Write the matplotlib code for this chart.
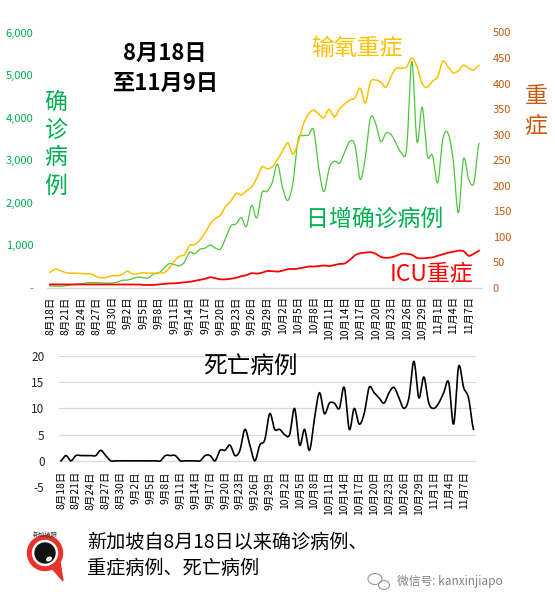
import numpy as np
import pandas as pd
import matplotlib
matplotlib.use("Agg")
import matplotlib.pyplot as plt
from matplotlib.patches import Circle, Ellipse, Polygon

plt.rcParams['font.family'] = ['Noto Sans CJK SC', 'DejaVu Sans']
plt.rcParams['axes.unicode_minus'] = False

# ---------------- data ----------------
dates = pd.date_range('2021-08-18', '2021-11-09', freq='D')
date_labels = [f"{d.month}月{d.day}日" for d in dates]

daily_cases = [50, 45, 40, 55, 70, 90, 94, 120, 127, 125, 117, 115, 116, 140,
               180, 187, 218, 259, 241, 235, 328, 349, 457, 568, 555, 520, 607, 837,
               807, 910, 935, 1009, 938, 917, 1178, 1457, 1504, 1650, 1443, 1939, 1647, 2236, 2268, 2478,
               2909, 2356, 2057, 2475, 3486, 3577, 3590, 3703, 2809, 2263, 2809, 2976, 2932, 3190, 3445, 3348,
               2553, 3058, 3994, 3862, 3439, 3637, 3598, 3383, 3174, 3277, 5324, 3432, 4248, 3112, 3112, 2470,
               3496, 3635, 3003, 1767, 3035, 2553, 2470, 3397]

oxygen = [31, 37, 34, 30, 29, 29, 28, 28, 27, 22,
          20, 21, 24, 24, 27, 33, 27, 28, 30, 29,
          29, 30, 30, 38, 52, 62, 65, 83, 85, 94,
          108, 125, 136, 143, 160, 170, 185, 182, 190, 198,
          215, 237, 233, 237, 252, 268, 284, 262, 285, 320,
          340, 348, 340, 333, 350, 335, 350, 360, 368, 372,
          391, 362, 403, 407, 403, 393, 415, 430, 430, 433,
          450, 433, 400, 393, 405, 413, 444, 433, 421, 425,
          436, 430, 427, 436]

icu = [7, 7, 7, 7, 7, 7, 7, 7, 7, 7,
       7, 7, 7, 7, 7, 7, 7, 7, 6, 6,
       6, 7, 8, 9, 9, 10, 11, 12, 14, 16,
       18, 21, 19, 17, 17, 18, 20, 23, 25, 29,
       28, 30, 33, 33, 32, 34, 37, 37, 38, 40,
       42, 42, 43, 44, 43, 45, 47, 48, 55, 64,
       68, 69, 70, 67, 61, 59, 60, 63, 67, 67,
       65, 59, 58, 59, 60, 63, 66, 69, 71, 73,
       72, 63, 67, 73]

deaths = [0, 1, 0, 1, 1, 1, 1, 1, 2, 1,
          0, 0, 0, 0, 0, 0, 0, 0, 0, 0,
          0, 1, 1, 1, 0, 0, 0, 0, 0, 1,
          1, 0, 2, 2, 3, 1, 2, 6, 3, 0,
          3, 4, 9, 6, 6, 5, 5, 10, 3, 6,
          2, 8, 13, 9, 11, 11, 10, 14, 6, 10,
          7, 9, 14, 13, 12, 11, 13, 14, 12, 10,
          12, 19, 12, 16, 11, 10, 11, 13, 15, 7,
          18, 14, 12, 6]

left_ticks = [0, 1000, 2000, 3000, 4000, 5000, 6000]
right_ticks = [0, 50, 100, 150, 200, 250, 300, 350, 400, 450, 500]
death_ticks = [-5, 0, 5, 10, 15, 20]

# ---------------- helpers ----------------
W, H = 555, 606


def fx(px):
    return px / W


def fy(py):
    return 1 - py / H


def smooth(vals, n=12):
    v = np.asarray(vals, float)
    p = np.concatenate([[v[0]], v, [v[-1]]])
    xs, ys = [], []
    t = np.linspace(0, 1, n, endpoint=False)
    for i in range(len(v) - 1):
        p0, p1, p2, p3 = p[i], p[i + 1], p[i + 2], p[i + 3]
        y = 0.5 * (2 * p1 + (-p0 + p2) * t + (2 * p0 - 5 * p1 + 4 * p2 - p3) * t ** 2
                   + (-p0 + 3 * p1 - 3 * p2 + p3) * t ** 3)
        xs.append(i + t)
        ys.append(y)
    xs.append([len(v) - 1])
    ys.append([v[-1]])
    return np.concatenate(xs), np.concatenate(ys)


idx = np.arange(len(dates))
tick_idx = idx[::3]
tick_lab = [date_labels[i] for i in tick_idx]

GREEN_TXT = '#00B050'
GREEN_LINE = '#4CC63C'
GOLD = '#FFC000'
RED = '#FF0000'
BROWN = '#C55A11'
GRID = '#D9D9D9'

fig = plt.figure(figsize=(W / 100, H / 100), dpi=100)
fig.patch.set_facecolor('white')

# ---------------- top chart ----------------
ax1 = fig.add_axes([fx(47.4), fy(288), (481.6 - 47.4) / W, (288 - 32.5) / H])
ax1.set_xlim(-0.5, len(idx) - 0.5)
ax1.set_ylim(0, 6000)
ax2 = ax1.twinx()
ax2.set_ylim(0, 500)

gx, gy = smooth(daily_cases)
ax1.plot(gx, gy, color=GREEN_LINE, lw=0.9, zorder=3)
ox, oy = smooth(oxygen)
ax2.plot(ox, oy, color=GOLD, lw=1.1, zorder=3)
ix, iy = smooth(icu)
ax2.plot(ix, iy, color=RED, lw=1.3, zorder=3)

ax1.set_yticks(left_ticks)
ax1.set_yticklabels(['-' if v == 0 else f'{v:,}' for v in left_ticks])
ax1.tick_params(axis='y', length=0, pad=10, labelsize=8, labelcolor=GREEN_TXT)
ax2.set_yticks(right_ticks)
ax2.set_yticklabels([str(v) for v in right_ticks])
ax2.tick_params(axis='y', length=0, pad=8, labelsize=8, labelcolor=BROWN)

ax1.set_xticks(tick_idx)
ax1.set_xticklabels(tick_lab, rotation=90, fontsize=7.5)
ax1.tick_params(axis='x', length=0, pad=6)

for a in (ax1, ax2):
    for s in a.spines.values():
        s.set_visible(False)
ax1.spines['bottom'].set_visible(True)
ax1.spines['bottom'].set_color(GRID)
ax1.spines['bottom'].set_linewidth(1.0)

# ---------------- bottom chart ----------------
ax3 = fig.add_axes([fx(58.5), fy(487), (476 - 58.5) / W, (487 - 356) / H])
ax3.set_xlim(-0.5, len(idx) - 0.5)
ax3.set_ylim(-5, 20)
ax3.set_yticks(death_ticks)
ax3.set_yticklabels([str(v) for v in death_ticks])
ax3.yaxis.grid(True, color=GRID, lw=0.9)
ax3.set_axisbelow(True)
for s in ax3.spines.values():
    s.set_visible(False)
ax3.spines['bottom'].set_position(('data', 0))
ax3.spines['bottom'].set_visible(True)
ax3.spines['bottom'].set_color('none')
ax3.tick_params(axis='y', length=0, pad=10, labelsize=8.5, labelcolor='#262626')
ax3.set_xticks(tick_idx)
ax3.set_xticklabels(tick_lab, rotation=90, fontsize=7.5)
ax3.tick_params(axis='x', length=0, pad=7.5)
dx, dy = smooth(deaths)
ax3.plot(dx, dy, color='black', lw=1.2, zorder=3)

# ---------------- annotations ----------------
fig.text(fx(165), fy(53), "8月18日", ha='center', va='center', fontsize=16, fontweight='bold')
fig.text(fx(166), fy(83), "至11月9日", ha='center', va='center', fontsize=16, fontweight='bold')

for ch, py in zip("确诊病例", [102, 130, 158, 186]):
    fig.text(fx(56), fy(py), ch, ha='center', va='center', fontsize=16.5, color=GREEN_TXT)
for ch, py in zip("重症", [96, 126]):
    fig.text(fx(536), fy(py), ch, ha='center', va='center', fontsize=16.5, color=BROWN)

fig.text(fx(357), fy(48), "输氧重症", ha='center', va='center', fontsize=16.5, color=GOLD)
fig.text(fx(375), fy(219), "日增确诊病例", ha='center', va='center', fontsize=16.5, color=GREEN_TXT)
fig.text(fx(431), fy(275), "ICU重症", ha='center', va='center', fontsize=16.5, color=RED)
fig.text(fx(250), fy(367), "死亡病例", ha='center', va='center', fontsize=17, color='black')

fig.text(fx(87), fy(542), "新加坡自8月18日以来确诊病例、", ha='left', va='center', fontsize=13.8, color='black')
fig.text(fx(87), fy(569), "重症病例、死亡病例", ha='left', va='center', fontsize=13.8, color='black')
fig.text(fx(397), fy(582), "微信号: kanxinjiapo", ha='left', va='center', fontsize=8.5, color='#808080')

# ---------------- logo & wechat icon (decorations) ----------------
ov = fig.add_axes([0, 0, 1, 1])
ov.set_xlim(0, W)
ov.set_ylim(H, 0)
ov.set_facecolor('none')
ov.axis('off')
ov.add_patch(Polygon([[50, 566], [63, 581], [60, 562]], closed=True, color='#E8322B', zorder=1))
ov.add_patch(Circle((45, 553), 17.5, color='#E8322B', zorder=2))
ov.add_patch(Circle((45, 553), 12.5, color='white', zorder=3))
ov.add_patch(Circle((45, 553), 10, color='#111111', zorder=4))
ov.add_patch(Ellipse((49, 559), 5, 3, angle=-30, color='white', zorder=5))
ov.text(45, 535, "新加坡眼", ha='center', va='center', fontsize=4.5, color='#333333')
ov.add_patch(Ellipse((375, 579), 14, 11, fill=False, ec='#9a9a9a', lw=0.8))
ov.add_patch(Ellipse((384, 585), 11, 9, fill=False, ec='#9a9a9a', lw=0.8))

fig.savefig('out.png', dpi=100, facecolor='white')
